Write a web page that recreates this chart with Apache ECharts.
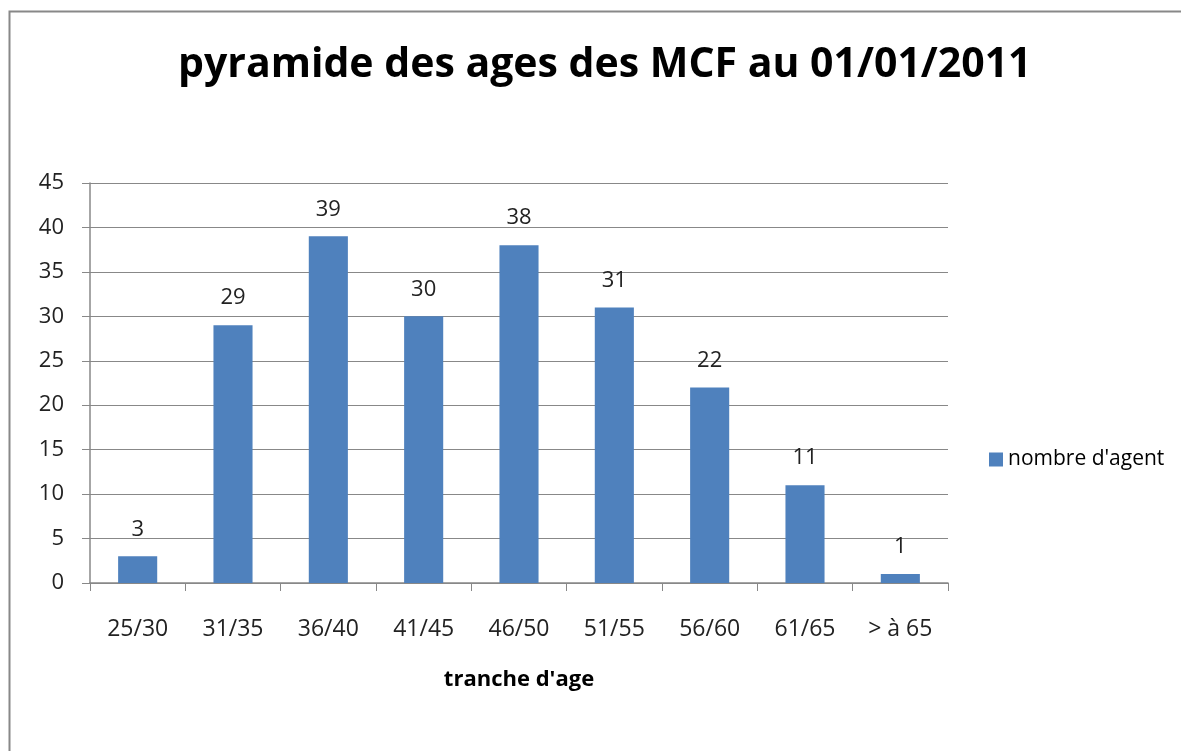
<!DOCTYPE html>
<html>
<head>
<meta charset="utf-8">
<script src="https://cdn.jsdelivr.net/npm/echarts@6/dist/echarts.min.js"></script>
<style>
  html, body { margin: 0; padding: 0; background: #fff; }
  #main { width: 1181px; height: 751px; }
</style>
</head>
<body>
<div id="main"></div>
<script>
// tranches d'age et effectifs
var categories = ['25/30', '31/35', '36/40', '41/45', '46/50', '51/55', '56/60', '61/65', '> à 65']
var agents = [3, 29, 39, 30, 38, 31, 22, 11, 1]
var yTicks = [0, 5, 10, 15, 20, 25, 30, 35, 40, 45]

var chart = echarts.init(document.getElementById('main'))
var font = 'Open Sans'

chart.setOption({
  animation: false,
  graphic: [
    {
      type: 'rect',
      shape: { x: 9.5, y: 11.5, width: 1200, height: 800 },
      style: { fill: 'none', stroke: '#888', lineWidth: 2 },
      silent: true
    }
  ],
  title: {
    text: 'pyramide des ages des MCF au 01/01/2011',
    left: 173,
    top: 40,
    textStyle: { fontFamily: font, fontWeight: 'bold', fontSize: 41, color: '#000' }
  },
  legend: {
    orient: 'vertical',
    left: 984,
    top: 444,
    itemWidth: 14,
    itemHeight: 14,
    itemGap: 4,
    textStyle: { fontFamily: font, fontSize: 21, color: '#000' },
    data: [{ name: "nombre d'agent", icon: 'rect' }]
  },
  grid: { left: 90, top: 183, width: 858, height: 400, containLabel: false },
  xAxis: {
    type: 'category',
    data: categories,
    name: "tranche d'age",
    nameLocation: 'middle',
    nameGap: 86,
    nameTextStyle: { fontFamily: font, fontWeight: 'bold', fontSize: 22, color: '#000' },
    axisLine: { lineStyle: { color: '#888', width: 1.5 } },
    axisTick: { show: true, length: 8, lineStyle: { color: '#888' } },
    axisLabel: { fontFamily: font, fontSize: 23, color: '#222', margin: 35 }
  },
  yAxis: {
    type: 'value',
    min: 0,
    max: yTicks[yTicks.length - 1],
    interval: 5,
    axisLine: { show: true, lineStyle: { color: '#888', width: 1.5 } },
    axisTick: { show: true, length: 8, lineStyle: { color: '#888' } },
    axisLabel: { fontFamily: font, fontSize: 22, color: '#222', margin: 26 },
    splitLine: { lineStyle: { color: '#888', width: 1 } }
  },
  series: [
    {
      name: "nombre d'agent",
      type: 'bar',
      data: agents,
      barWidth: '41%',
      itemStyle: { color: '#4F81BD' },
      label: {
        show: true,
        position: 'top',
        distance: 16,
        fontFamily: font,
        fontSize: 22,
        color: '#222'
      }
    }
  ]
})
</script>
</body>
</html>
